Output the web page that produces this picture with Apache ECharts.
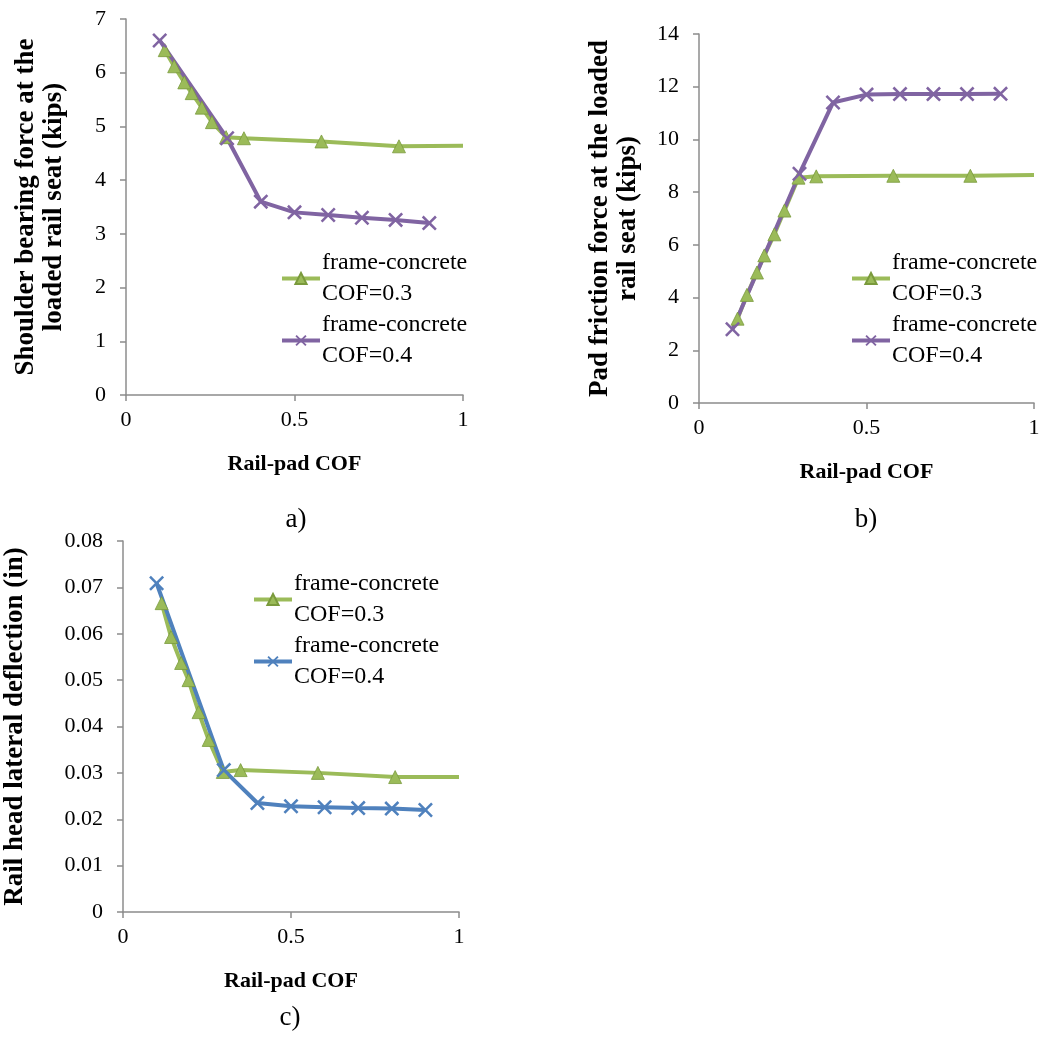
<!DOCTYPE html>
<html>
<head>
<meta charset="utf-8">
<script src="https://cdn.jsdelivr.net/npm/echarts@6/dist/echarts.min.js"></script>
<style>
  html, body { margin: 0; padding: 0; background: #fff; }
  #chart { width: 1059px; height: 1038px; }
</style>
</head>
<body>
<div id="chart"></div>
<script>
// rail-pad COF values (x)
const cofGreen = [0.115, 0.143, 0.173, 0.195, 0.225, 0.255, 0.297, 0.35, 0.58, 0.81, 1.0]
const cofOther = [0.1, 0.3, 0.4, 0.5, 0.6, 0.7, 0.8, 0.9]

// a) shoulder bearing force (kips)
const shoulderGreen = [6.42, 6.12, 5.82, 5.62, 5.35, 5.08, 4.8, 4.78, 4.72, 4.63, 4.64]
const shoulderPurple = [6.6, 4.78, 3.6, 3.4, 3.35, 3.3, 3.26, 3.2]
// b) pad friction force (kips)
const frictionGreen = [3.2, 4.1, 4.95, 5.6, 6.4, 7.3, 8.55, 8.6, 8.62, 8.62, 8.65]
const frictionPurple = [2.8, 8.7, 11.4, 11.7, 11.72, 11.72, 11.72, 11.73]
// c) rail head lateral deflection (in)
const deflGreen = [0.0666, 0.0593, 0.0537, 0.050, 0.0431, 0.0371, 0.0302, 0.0306, 0.0300, 0.0291, 0.0291]
const deflBlue = [0.0709, 0.0306, 0.0235, 0.0228, 0.0226, 0.0224, 0.0223, 0.022]

const nameA = 'frame-concrete\nCOF=0.3'
const nameB = 'frame-concrete\nCOF=0.4'

const GREEN = '#9bbb59'
const PURPLE = '#8064a2'
const BLUE = '#4f81bd'
const AXIS = '#8c8c8c'
const FONT = '"Liberation Serif", "Times New Roman", serif'
const CROSS = 'path://M0,1.2L1.2,0L5,3.8L8.8,0L10,1.2L6.2,5L10,8.8L8.8,10L5,6.2L1.2,10L0,8.8L3.8,5Z'

const pairs = (xs, ys) => xs.map((x, i) => [x, ys[i]])

const xAxisOf = (idx) => ({
  gridIndex: idx,
  type: 'value',
  min: 0,
  max: 1,
  interval: 0.5,
  name: 'Rail-pad COF',
  nameLocation: 'middle',
  nameGap: 58,
  nameTextStyle: { fontFamily: FONT, fontWeight: 'bold', fontSize: 22, color: '#000' },
  splitLine: { show: false },
  axisLine: { lineStyle: { color: AXIS, width: 1.5 } },
  axisTick: { inside: false, length: 6, lineStyle: { color: AXIS, width: 1.5 } },
  axisLabel: { fontFamily: FONT, fontSize: 22, color: '#000', margin: 14 }
})

const yAxisOf = (idx, max, interval, name, gap) => ({
  gridIndex: idx,
  type: 'value',
  min: 0,
  max: max,
  interval: interval,
  name: name,
  nameLocation: 'middle',
  nameRotate: 90,
  nameGap: gap,
  nameTextStyle: { fontFamily: FONT, fontWeight: 'bold', fontSize: 27, color: '#000', lineHeight: 28 },
  splitLine: { show: false },
  axisLine: { show: true, lineStyle: { color: AXIS, width: 1.5 } },
  axisTick: { show: true, length: 6, lineStyle: { color: AXIS, width: 1.5 } },
  axisLabel: { fontFamily: FONT, fontSize: 22, color: '#000', margin: 20 }
})

const greenSeries = (idx, ys) => ({
  name: nameA,
  type: 'line',
  xAxisIndex: idx,
  yAxisIndex: idx,
  data: pairs(cofGreen, ys).map((p, i) => i === cofGreen.length - 1 ? { value: p, symbol: 'none' } : p),
  symbol: 'triangle',
  symbolSize: 13,
  itemStyle: { color: GREEN, borderColor: '#7a9a3c', borderWidth: 0.8 },
  lineStyle: { color: GREEN, width: 4 },
  animation: false
})

const crossSeries = (idx, ys, color) => ({
  name: nameB,
  type: 'line',
  xAxisIndex: idx,
  yAxisIndex: idx,
  data: pairs(cofOther, ys),
  symbol: CROSS,
  symbolSize: 15,
  itemStyle: { color: color },
  lineStyle: { color: color, width: 4 },
  animation: false
})

const legendOf = (left, top, crossColor) => ({
  orient: 'vertical',
  left: left,
  top: top,
  itemWidth: 38,
  itemHeight: 14,
  itemGap: -31,
  padding: 0,
  textStyle: { fontFamily: FONT, fontSize: 24, color: '#000', lineHeight: 31, padding: [31, 0, 0, -3] },
  data: [
    { name: nameA, lineStyle: { width: 4 } },
    { name: nameB, itemStyle: { color: crossColor }, lineStyle: { color: crossColor, width: 4 } }
  ]
})

const labelText = (x, y, text) => ({
  type: 'text',
  x: x,
  y: y,
  style: { text: text, font: '27px ' + FONT, fill: '#000', align: 'center', verticalAlign: 'middle' }
})

const chart = echarts.init(document.getElementById('chart'))
chart.setOption({
  backgroundColor: '#fff',
  animation: false,
  grid: [
    { left: 126, top: 19, width: 337, height: 376 },
    { left: 699, top: 34, width: 335, height: 369 },
    { left: 122, top: 541, width: 337, height: 371 }
  ],
  xAxis: [xAxisOf(0), xAxisOf(1), xAxisOf(2)],
  yAxis: [
    yAxisOf(0, 7, 1, 'Shoulder bearing force at the\nloaded rail seat (kips)', 58),
    yAxisOf(1, 14, 2, 'Pad friction force at the loaded\nrail seat (kips)', 57),
    yAxisOf(2, 0.08, 0.01, 'Rail head lateral deflection (in)', 94)
  ],
  legend: [
    legendOf(280, 232, PURPLE),
    legendOf(850, 232, PURPLE),
    legendOf(252, 553, BLUE)
  ],
  graphic: [
    labelText(296, 520, 'a)'),
    labelText(866, 520, 'b)'),
    labelText(290, 1018, 'c)')
  ],
  series: [
    greenSeries(0, shoulderGreen),
    crossSeries(0, shoulderPurple, PURPLE),
    greenSeries(1, frictionGreen),
    crossSeries(1, frictionPurple, PURPLE),
    greenSeries(2, deflGreen),
    crossSeries(2, deflBlue, BLUE)
  ]
})
</script>
</body>
</html>
